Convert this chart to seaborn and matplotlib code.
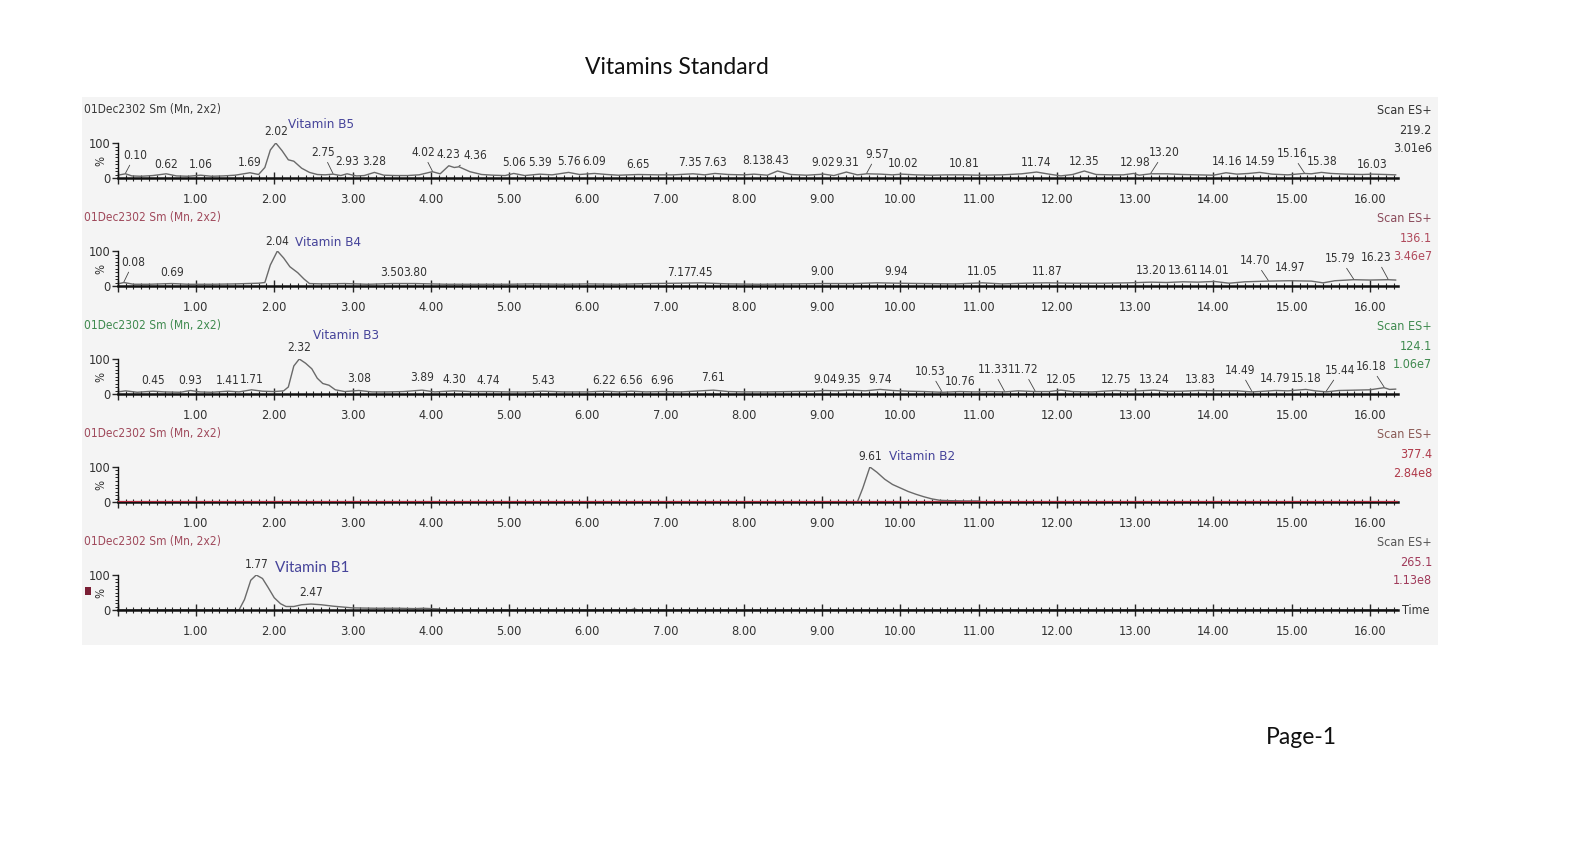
import numpy as np
import pandas as pd
import matplotlib
matplotlib.use("Agg")
import matplotlib.pyplot as plt
import seaborn as sns
from matplotlib import font_manager as fm
from matplotlib.patches import Rectangle
from matplotlib.ticker import MultipleLocator

# ---------------- data ----------------
panel_names = ["Vitamin B5", "Vitamin B4", "Vitamin B3", "Vitamin B2", "Vitamin B1"]
panel_mass = ["219.2", "136.1", "124.1", "377.4", "265.1"]
panel_tic = ["3.01e6", "3.46e7", "1.06e7", "2.84e8", "1.13e8"]
header = "01Dec2302 Sm (Mn, 2x2)"

# Vitamin B5 trace (time, %)
b5_t = [0.0, 0.05, 0.10, 0.18, 0.30, 0.45, 0.62, 0.75, 0.90, 1.06, 1.20, 1.35, 1.50, 1.69, 1.80,
        1.88, 1.95, 2.02, 2.10, 2.18, 2.25, 2.35, 2.45, 2.55, 2.65, 2.75, 2.85, 2.93, 3.05, 3.15,
        3.28, 3.40, 3.55, 3.70, 3.85, 4.02, 4.12, 4.23, 4.30, 4.36, 4.50, 4.65, 4.80, 4.95, 5.06,
        5.20, 5.39, 5.55, 5.76, 5.90, 6.09, 6.25, 6.40, 6.65, 6.90, 7.10, 7.35, 7.50, 7.63, 7.80,
        8.00, 8.13, 8.30, 8.43, 8.60, 8.80, 9.02, 9.15, 9.31, 9.45, 9.57, 9.75, 9.90, 10.02, 10.20,
        10.40, 10.60, 10.81, 11.00, 11.30, 11.55, 11.74, 11.90, 12.05, 12.20, 12.35, 12.50, 12.70,
        12.85, 12.98, 13.05, 13.20, 13.40, 13.60, 13.80, 14.00, 14.16, 14.30, 14.45, 14.59, 14.75,
        14.95, 15.16, 15.25, 15.38, 15.50, 15.70, 15.90, 16.03, 16.20, 16.33]
b5_i = [8, 10, 12, 6, 5, 7, 12, 6, 5, 8, 5, 6, 8, 15, 10,
        30, 80, 100, 78, 52, 48, 28, 16, 10, 9, 11, 7, 12, 6, 7,
        16, 8, 7, 7, 9, 18, 12, 35, 30, 32, 18, 10, 8, 7, 13,
        7, 11, 9, 16, 10, 13, 10, 8, 10, 9, 9, 12, 9, 13, 10,
        9, 11, 8, 20, 10, 8, 11, 7, 17, 9, 12, 11, 9, 11, 9,
        8, 9, 9, 8, 9, 12, 17, 11, 6, 10, 20, 10, 9,
        9, 13, 8, 12, 12, 10, 9, 8, 15, 11, 13, 16, 11,
        9, 13, 12, 16, 13, 11, 10, 11, 10, 9]
b5_rt = [0.10, 0.62, 1.06, 1.69, 2.02, 2.75, 2.93, 3.28, 4.02, 4.23, 4.36, 5.06, 5.39, 5.76,
         6.09, 6.65, 7.35, 7.63, 8.13, 8.43, 9.02, 9.31, 9.57, 10.02, 10.81, 11.74, 12.35,
         12.98, 13.20, 14.16, 14.59, 15.16, 15.38, 16.03]
b5_lx = [0.22, 0.62, 1.06, 1.69, 2.02, 2.62, 2.93, 3.28, 3.90, 4.22, 4.57, 5.06, 5.39, 5.76,
         6.09, 6.65, 7.31, 7.63, 8.13, 8.42, 9.02, 9.32, 9.70, 10.03, 10.81, 11.74, 12.35,
         13.00, 13.37, 14.17, 14.59, 15.00, 15.39, 16.03]
b5_ly = [46, 20, 20, 26, 114, 54, 29, 29, 54, 49, 46, 26, 26, 29,
         29, 20, 26, 26, 31, 31, 26, 26, 49, 23, 23, 26, 29,
         26, 54, 29, 29, 51, 29, 20]

# Vitamin B4 trace
b4_t = [0.0, 0.08, 0.20, 0.40, 0.69, 0.90, 1.20, 1.50, 1.80, 1.88, 1.95, 2.04, 2.12, 2.20,
        2.30, 2.38, 2.45, 2.60, 2.90, 3.20, 3.50, 3.80, 4.20, 4.60, 5.00, 5.30, 5.70, 6.00,
        6.40, 6.80, 7.17, 7.45, 7.80, 8.20, 8.60, 9.00, 9.40, 9.70, 9.94, 10.30, 10.70, 11.05,
        11.30, 11.60, 11.87, 12.20, 12.60, 12.90, 13.20, 13.40, 13.61, 13.80, 14.01, 14.20,
        14.40, 14.70, 14.97, 15.25, 15.40, 15.55, 15.79, 16.00, 16.23, 16.33]
b4_i = [6, 10, 5, 5, 7, 5, 5, 6, 8, 10, 60, 100, 80, 55,
        38, 20, 7, 6, 7, 5, 7, 7, 5, 5, 5, 6, 5, 6,
        5, 7, 8, 9, 6, 5, 6, 7, 7, 9, 8, 7, 6, 9,
        6, 8, 9, 8, 8, 9, 11, 10, 12, 11, 13, 8,
        12, 14, 15, 14, 9, 15, 18, 17, 18, 17]
b4_rt = [0.08, 0.69, 2.04, 3.50, 3.80, 7.17, 7.45, 9.00, 9.94, 11.05, 11.87, 13.20, 13.61,
         14.01, 14.70, 14.97, 15.79, 16.23]
b4_lx = [0.20, 0.69, 2.04, 3.50, 3.80, 7.17, 7.45, 9.00, 9.94, 11.05, 11.87, 13.20, 13.61,
         14.01, 14.53, 14.98, 15.62, 16.08]
b4_ly = [49, 20, 109, 20, 20, 20, 20, 23, 23, 23, 23, 26, 26, 26, 54, 34, 60, 63]

# Vitamin B3 trace
b3_t = [0.0, 0.10, 0.25, 0.45, 0.60, 0.80, 0.93, 1.05, 1.20, 1.41, 1.55, 1.71, 1.85, 2.00,
        2.12, 2.18, 2.25, 2.32, 2.40, 2.48, 2.55, 2.62, 2.70, 2.78, 2.90, 3.08, 3.25, 3.45,
        3.65, 3.89, 4.05, 4.30, 4.50, 4.74, 5.00, 5.20, 5.43, 5.70, 6.00, 6.22, 6.40, 6.56,
        6.75, 6.96, 7.20, 7.45, 7.61, 7.80, 8.00, 8.30, 8.60, 8.90, 9.04, 9.20, 9.35, 9.55,
        9.74, 9.90, 10.10, 10.30, 10.53, 10.76, 10.95, 11.15, 11.33, 11.50, 11.72, 11.90,
        12.05, 12.20, 12.45, 12.60, 12.75, 12.90, 13.05, 13.24, 13.40, 13.60, 13.83, 14.00,
        14.30, 14.49, 14.65, 14.79, 14.95, 15.18, 15.30, 15.44, 15.60, 15.80, 16.00, 16.18,
        16.25, 16.33]
b3_i = [6, 9, 5, 8, 6, 5, 10, 6, 5, 8, 6, 12, 8, 7,
        9, 20, 80, 100, 88, 72, 45, 30, 25, 12, 7, 10, 6, 6,
        7, 11, 6, 9, 7, 7, 6, 6, 8, 6, 6, 8, 6, 8,
        6, 7, 6, 9, 11, 7, 6, 6, 7, 8, 10, 9, 11, 9,
        13, 10, 8, 7, 5, 7, 6, 7, 6, 9, 7, 7,
        11, 7, 6, 8, 10, 8, 9, 11, 8, 8, 10, 9,
        9, 6, 8, 10, 9, 13, 9, 6, 10, 11, 12, 18,
        13, 14]
b3_rt = [0.45, 0.93, 1.41, 1.71, 2.32, 3.08, 3.89, 4.30, 4.74, 5.43, 6.22, 6.56, 6.96, 7.61,
         9.04, 9.35, 9.74, 10.53, 10.76, 11.33, 11.72, 12.05, 12.75, 13.24, 13.83, 14.49,
         14.79, 15.18, 15.44, 16.18]
b3_lx = [0.45, 0.93, 1.41, 1.71, 2.32, 3.08, 3.89, 4.30, 4.74, 5.43, 6.22, 6.56, 6.96, 7.61,
         9.04, 9.35, 9.74, 10.38, 10.76, 11.18, 11.57, 12.05, 12.75, 13.24, 13.83, 14.34,
         14.79, 15.18, 15.62, 16.01]
b3_ly = [20, 20, 20, 23, 114, 26, 29, 23, 20, 20, 20, 20, 20, 29,
         23, 23, 23, 46, 17, 51, 51, 23, 23, 23, 23, 49,
         26, 26, 49, 60]

# Vitamin B2 trace
b2_t = [0.0, 9.45, 9.52, 9.61, 9.70, 9.80, 9.90, 10.00, 10.10, 10.20, 10.30, 10.40, 10.50,
        10.60, 10.80, 11.00, 11.05, 16.36]
b2_i = [0, 0, 40, 100, 85, 65, 50, 40, 30, 22, 15, 9, 5, 4, 3, 3, 0, 0]
b2_rt = [9.61]
b2_lx = [9.61]
b2_ly = [111]

# Vitamin B1 trace
b1_t = [0.0, 1.55, 1.62, 1.70, 1.77, 1.85, 1.92, 2.00, 2.08, 2.15, 2.25, 2.35, 2.47, 2.60,
        2.75, 2.90, 3.00, 3.30, 3.60, 3.80, 3.90, 4.00, 4.10, 4.15, 6.55, 6.60, 6.65, 16.36]
b1_i = [0, 0, 30, 85, 100, 90, 65, 35, 18, 10, 10, 15, 17, 15,
        11, 8, 6, 5, 5, 4, 5, 4, 3, 0, 0, 3, 0, 0]
b1_rt = [1.77, 2.47]
b1_lx = [1.77, 2.47]
b1_ly = [111, 31]

# where the compound name sits (time of left edge, % of centre)
name_x = [2.18, 2.27, 2.49, 9.86, 2.01]
name_y = [154, 123, 166, 129, 120]

traces = [(b5_t, b5_i), (b4_t, b4_i), (b3_t, b3_i), (b2_t, b2_i), (b1_t, b1_i)]
labels = [(b5_rt, b5_lx, b5_ly), (b4_rt, b4_lx, b4_ly), (b3_rt, b3_lx, b3_ly),
          (b2_rt, b2_lx, b2_ly), (b1_rt, b1_lx, b1_ly)]

# ---------------- styling ----------------
sns.set_theme(style="white")
names = {f.name for f in fm.fontManager.ttflist}
if "Liberation Sans Narrow" in names:
    narrow = dict(family="Liberation Sans Narrow")
else:
    narrow = dict(family="DejaVu Sans", stretch="condensed")
calib = "Lato" if "Lato" in names else "DejaVu Sans"
plt.rcParams["font.family"] = [narrow["family"], "DejaVu Sans"]

head_col = ["#3a3a3a", "#a04a5c", "#3f8a4f", "#a04a5c", "#a04a5c"]
scan_col = ["#333333", "#8a4a5a", "#3f8a4f", "#8a5a55", "#555555"]
val_col = ["#333333", "#b04a5c", "#3f8a4f", "#b03a4a", "#a03a5a"]
name_col = "#46449a"
trace_col = "#6a6a6a"
txt_col = "#333333"
lab_fs = 8.6

W, H = 1584, 860
fig = plt.figure(figsize=(W / 100, H / 100), dpi=100)
fig.patch.set_facecolor("white")
fig.add_artist(Rectangle((82 / W, 1 - 645 / H), (1438 - 82) / W, (645 - 97) / H,
                         transform=fig.transFigure, facecolor="#f4f4f4", edgecolor="none",
                         zorder=0))

x0, px_per_min = 117.7, 78.27
xmax = 16.36
for k in range(5):
    zero_y = 178 + 108 * k
    ax = fig.add_axes([x0 / W, 1 - zero_y / H, xmax * px_per_min / W, 35 / H])
    ax.set_facecolor("none")
    t, inten = traces[k]
    df = pd.DataFrame({"time": t, "pct": inten})
    sns.lineplot(data=df, x="time", y="pct", ax=ax, color=trace_col, lw=1.0,
                 estimator=None, sort=False)
    if k == 3:
        ax.axhline(0, color="#b02a3c", lw=1.6, zorder=3)
    ax.set_xlim(0, xmax)
    ax.set_ylim(0, 100)
    ax.set_xlabel("")
    ax.set_ylabel("")
    for s in ("top", "right"):
        ax.spines[s].set_visible(False)
    ax.spines["bottom"].set_linewidth(1.8)
    ax.spines["bottom"].set_color("#111111")
    ax.spines["left"].set_linewidth(1.0)
    ax.spines["left"].set_color("#111111")
    ax.xaxis.set_major_locator(MultipleLocator(1))
    ax.xaxis.set_minor_locator(MultipleLocator(0.1))
    ax.xaxis.set_major_formatter(lambda v, p: f"{v:.2f}" if v > 0 else "")
    ax.set_yticks([0, 100])
    ax.set_yticklabels(["0", "100"])
    ax.yaxis.set_minor_locator(MultipleLocator(10))
    ax.tick_params(axis="x", which="major", direction="inout", length=9, width=1.0,
                   pad=6, labelcolor=txt_col, bottom=True)
    ax.tick_params(axis="x", which="minor", direction="inout", length=5, width=0.8, bottom=True)
    ax.tick_params(axis="y", which="major", direction="out", length=4, width=1.0,
                   pad=1, labelcolor=txt_col, left=True)
    ax.tick_params(axis="y", which="minor", direction="out", length=2, width=0.7, left=True)
    for lab in ax.get_xticklabels() + ax.get_yticklabels():
        lab.set_fontproperties(fm.FontProperties(size=9.2, **narrow))
    ax.text(-0.22, 50, "%", rotation=90, ha="center", va="center", fontsize=8.5,
            color=txt_col, **narrow)

    # peak labels
    rts, lxs, lys = labels[k]
    for rt, lx, ly in zip(rts, lxs, lys):
        txt = f"{rt:.2f}"
        if abs(lx - rt) > 0.05:
            tip = np.interp(rt, t, inten) + 2
            ax.annotate(txt, xy=(rt, tip), xytext=(lx, ly), ha="center", va="bottom",
                        fontsize=lab_fs, color=txt_col, annotation_clip=False,
                        arrowprops=dict(arrowstyle="-", color="#444444", lw=0.6,
                                        shrinkA=0, shrinkB=0), **narrow)
        else:
            ax.text(lx, ly, txt, ha="center", va="bottom", fontsize=lab_fs, color=txt_col,
                    **narrow)

    # compound name
    if k == 4:
        ax.text(name_x[k], name_y[k], panel_names[k], ha="left", va="center",
                fontsize=11, color=name_col, family=calib)
    else:
        ax.text(name_x[k], name_y[k], panel_names[k], ha="left", va="center",
                fontsize=9.6, color=name_col, **narrow)

    # header and right side info
    fig.text(84 / W, 1 - (zero_y - 68) / H, header, ha="left", va="center", fontsize=8.6,
             color=head_col[k], **narrow)
    fig.text(1432 / W, 1 - (zero_y - 67) / H, "Scan ES+", ha="right", va="center",
             fontsize=9, color=scan_col[k], **narrow)
    fig.text(1432 / W, 1 - (zero_y - 48) / H, panel_mass[k], ha="right", va="center",
             fontsize=9, color=val_col[k], **narrow)
    fig.text(1432 / W, 1 - (zero_y - 29) / H, panel_tic[k], ha="right", va="center",
             fontsize=9, color=val_col[k], **narrow)

fig.text(1430 / W, 1 - 611 / H, "Time", ha="right", va="center", fontsize=9,
         color=txt_col, **narrow)
fig.add_artist(Rectangle((85 / W, 1 - 595 / H), 6 / W, 8 / H, transform=fig.transFigure,
                         facecolor="#7a1f35", edgecolor="none"))

fig.text(677 / W, 1 - 67 / H, "Vitamins Standard", ha="center", va="center",
         fontsize=16.5, color="#111111", family=calib)
fig.text(1301 / W, 1 - 737 / H, "Page-1", ha="center", va="center",
         fontsize=16.5, color="#111111", family=calib)

fig.savefig("out.png", dpi=100, facecolor="white")
